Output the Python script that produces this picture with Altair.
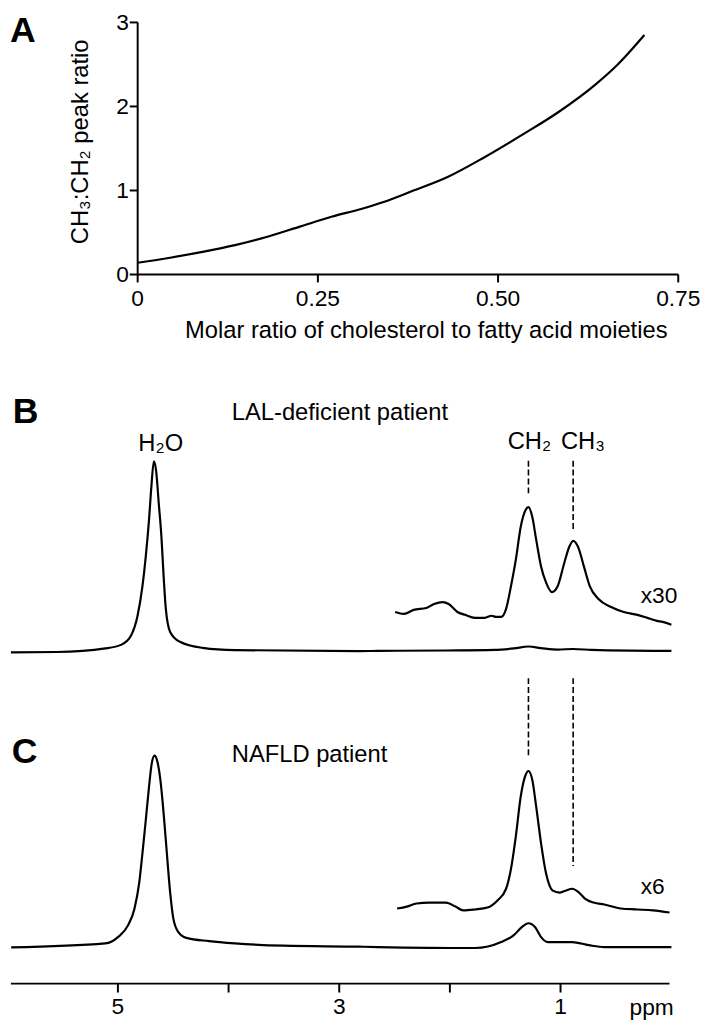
import altair as alt
import pandas as pd

FONT = "Liberation Sans"

# ---------------- Panel A : calibration curve ----------------
A_RATIO = [0, 0.045, 0.09, 0.135, 0.18, 0.225, 0.27, 0.31, 0.34, 0.38, 0.43,
           0.48, 0.535, 0.585, 0.635, 0.665, 0.703]
A_PEAK = [0.14, 0.20, 0.27, 0.35, 0.45, 0.57, 0.69, 0.78, 0.86, 0.99, 1.16,
          1.39, 1.67, 1.94, 2.26, 2.49, 2.85]
A_XTICKS = [0, 0.25, 0.5, 0.75]
A_XLABELS = ["0", "0.25", "0.50", "0.75"]
A_YTICKS = [0, 1, 2, 3]
A_YLABELS = ["0", "1", "2", "3"]
A_XTITLE = "Molar ratio of cholesterol to fatty acid moieties"
A_YTITLE = "CH\u2083:CH\u2082 peak ratio"

# ---------------- Panel B : LAL-deficient patient spectrum ----------------
B_MAIN_PPM = [5.967, 5.554, 5.114, 4.967, 4.880, 4.822, 4.778, 4.748, 4.719, 4.698,
              4.675, 4.655, 4.631, 4.607, 4.587, 4.567, 4.528, 4.440, 4.235, 3.942,
              2.829, 2.653, 2.037, 1.598, 1.422, 1.290, 1.158, 1.026, 0.885, 0.719,
              0.367, -0.002]
B_MAIN_I = [-0.5, -0.3, 1.6, 3.6, 8.5, 18.9, 34.5, 50.2, 69.3, 86.6,
            100.2, 95.3, 78.1, 60.6, 39.7, 22.4, 10.3, 5.1, 1.9, 0.7,
            0.2, 0.3, 0.5, 0.8, 1.6, 2.6, 1.6, 1.0, 1.3, 0.8,
            0.4, 0.3]
B_X30_PPM = [2.495, 2.415, 2.327, 2.213, 2.143, 2.064, 2.011, 1.932, 1.862, 1.774,
             1.686, 1.624, 1.580, 1.536, 1.492, 1.448, 1.404, 1.360, 1.316, 1.290,
             1.255, 1.220, 1.176, 1.132, 1.079, 1.026, 0.965, 0.921, 0.886, 0.842,
             0.789, 0.736, 0.657, 0.543, 0.429, 0.305, 0.191, 0.130, 0.077, -0.002]
B_X30_I = [20.8, 19.8, 21.9, 22.9, 25.0, 26.0, 25.0, 20.8, 19.3, 17.7,
           17.7, 18.8, 18.2, 18.2, 22.4, 34.4, 48.4, 65.6, 74.5, 76.0,
           70.8, 58.9, 44.8, 36.5, 31.3, 34.4, 46.9, 55.2, 58.3, 55.2,
           44.8, 34.4, 27.6, 23.4, 20.8, 19.3, 17.2, 16.1, 15.6, 14.1]
B_MARK_PPM = [1.290, 0.886]
B_MARK_TOP = [100.5, 100.5]
B_MARK_BOT = [82.3, 63.0]

# ---------------- Panel C : NAFLD patient spectrum ----------------
C_MAIN_PPM = [5.965, 5.114, 4.997, 4.909, 4.851, 4.807, 4.778, 4.748, 4.719, 4.695,
              4.669, 4.646, 4.616, 4.587, 4.558, 4.528, 4.499, 4.455, 4.382, 4.176,
              3.942, 3.503, 2.829, 2.653, 1.774, 1.536, 1.422, 1.352, 1.290, 1.229,
              1.176, 1.114, 1.009, 0.895, 0.745, 0.604, -0.002]
C_MAIN_I = [-0.2, 1.9, 5.3, 11.3, 19.9, 33.7, 49.1, 66.3, 83.5, 95.5,
            99.8, 97.3, 87.0, 69.7, 49.1, 28.5, 14.8, 7.9, 4.8, 3.1,
            1.9, 0.7, 0.2, 0.0, -0.5, 2.6, 6.2, 10.3, 12.4, 10.3,
            5.2, 2.6, 2.6, 2.6, 1.0, 0.0, 0.0]
C_X6_PPM = [2.477, 2.389, 2.301, 2.187, 2.037, 1.949, 1.879, 1.774, 1.660, 1.572,
            1.492, 1.448, 1.404, 1.360, 1.316, 1.290, 1.255, 1.220, 1.176, 1.132,
            1.070, 1.009, 0.956, 0.895, 0.833, 0.780, 0.701, 0.604, 0.455, 0.305,
            0.165, 0.015]
C_X6_I = [20.1, 21.1, 22.7, 23.2, 23.2, 21.1, 19.1, 19.6, 20.6, 24.2,
          30.4, 40.7, 57.7, 78.4, 89.7, 91.8, 87.1, 73.2, 54.1, 38.7,
          29.4, 28.4, 29.4, 30.4, 28.4, 25.3, 23.2, 22.2, 20.1, 19.6,
          19.1, 18.0]
C_MARK_PPM = [1.290, 0.886]
C_MARK_TOP = [140.2, 140.2]
C_MARK_BOT = [100.0, 42.3]
PPM_TICKS = [5, 4, 3, 2, 1]
PPM_LABELS = ["5", "", "3", "", "1"]
PPM_MIN, PPM_MAX = 0.0154, 5.967
PPM_AXIS_LEVEL = -19.07          # intensity level of the ppm axis line

# ---------------- Text annotations (data coordinates) ----------------
A_LETTER = {"x": [-0.1772], "y": [2.773], "t": ["A"]}
A_XTITLE_POS = {"x": [0.4004], "y": [-0.751], "t": [A_XTITLE]}
A_YTITLE_POS = {"x": [-0.0692], "y": [1.579], "t": [A_YTITLE]}
B_LETTER = {"x": [5.95], "y": [120.3], "t": ["B"]}
B_LEFT = {"x": [3.971], "y": [122.2], "t": ["LAL-deficient patient"]}
B_CENTER = {"x": [4.613, 1.281, 0.798], "y": [105.7, 106.8, 106.8],
            "t": ["H\u2082O", "CH\u2082", "CH\u2083"]}
B_RIGHT = {"x": [-0.055], "y": [25.5], "t": ["x30"]}
C_LETTER = {"x": [5.96], "y": [95.9], "t": ["C"]}
C_LEFT = {"x": [3.971], "y": [96.4], "t": ["NAFLD patient"]}
C_RIGHT = {"x": [0.059], "y": [27.8], "t": ["x6"]}
C_UNIT = {"x": [0.376], "y": [-35.57], "t": ["ppm"]}


def sc(domain, rng):
    return alt.Scale(domain=domain, range=rng, nice=False, zero=False)


# scales (pixel ranges place each panel on the page)
xA = sc([0, 0.75], [131.17, 677.98])
yA = sc([0, 3], [263.7, 8.7])
xB = sc([PPM_MIN, PPM_MAX], [669.12, 2.95])
yB = sc([0, 100], [645.0, 453.0])
xC = sc([PPM_MIN, PPM_MAX], [669.12, 2.95])
yC = sc([0, 100], [944.0, 750.0])


def XE(f, s):
    return alt.X(f"{f}:Q", scale=s, axis=None)


def YE(f, s):
    return alt.Y(f"{f}:Q", scale=s, axis=None)


def text_layer(d, xs, ys, **kw):
    return alt.Chart(pd.DataFrame(d)).mark_text(font=FONT, color="black", **kw).encode(
        x=XE("x", xs), y=YE("y", ys), text="t:N")


def line_layer(xv, yv, xs, ys):
    return alt.Chart(pd.DataFrame({"x": xv, "y": yv})).mark_line(
        color="black", strokeWidth=2.2, interpolate="monotone"
    ).encode(x=XE("x", xs), y=YE("y", ys))


def dashed_layer(xv, top, bot, xs, ys):
    return alt.Chart(pd.DataFrame({"x": xv, "y": top, "y2": bot})).mark_rule(
        color="black", strokeWidth=1.6, strokeDash=[6, 3]
    ).encode(x=XE("x", xs), y=YE("y", ys), y2="y2:Q")


# ---------- Panel A ----------
a_xdomain = alt.Chart(pd.DataFrame({"x": [A_XTICKS[0]], "x2": [A_XTICKS[-1]], "y": [A_YTICKS[0]]})).mark_rule(
    color="black", strokeWidth=2).encode(x=XE("x", xA), x2="x2:Q", y=YE("y", yA))
a_ydomain = alt.Chart(pd.DataFrame({"x": [A_XTICKS[0]], "y": [A_YTICKS[0]], "y2": [A_YTICKS[-1]]})).mark_rule(
    color="black", strokeWidth=2).encode(x=XE("x", xA), y=YE("y", yA), y2="y2:Q")
a_xticks = alt.Chart(pd.DataFrame({"x": A_XTICKS, "y": [A_YTICKS[0]] * len(A_XTICKS)})).mark_rule(
    color="black", strokeWidth=2, y2Offset=8).encode(x=XE("x", xA), y=YE("y", yA), y2="y:Q")
a_yticks = alt.Chart(pd.DataFrame({"x": [A_XTICKS[0]] * len(A_YTICKS), "y": A_YTICKS})).mark_rule(
    color="black", strokeWidth=2, x2Offset=-8).encode(x=XE("x", xA), x2="x:Q", y=YE("y", yA))
a_xlabels = text_layer({"x": A_XTICKS, "y": [A_YTICKS[0]] * len(A_XTICKS), "t": A_XLABELS}, xA, yA,
                       align="center", baseline="top", dy=14, fontSize=23)
a_ylabels = text_layer({"x": [A_XTICKS[0]] * len(A_YTICKS), "y": A_YTICKS, "t": A_YLABELS}, xA, yA,
                       align="right", baseline="alphabetic", dx=-9, dy=8, fontSize=23)

panelA = alt.layer(
    line_layer(A_RATIO, A_PEAK, xA, yA),
    a_xdomain, a_ydomain, a_xticks, a_yticks, a_xlabels, a_ylabels,
    text_layer(A_XTITLE_POS, xA, yA, align="center", baseline="alphabetic", fontSize=24),
    text_layer(A_YTITLE_POS, xA, yA, align="center", baseline="alphabetic", fontSize=24, angle=270),
    text_layer(A_LETTER, xA, yA, align="left", baseline="alphabetic", fontSize=36, fontWeight="bold"),
)

# ---------- Panel B ----------
panelB = alt.layer(
    line_layer(B_MAIN_PPM, B_MAIN_I, xB, yB),
    line_layer(B_X30_PPM, B_X30_I, xB, yB),
    dashed_layer(B_MARK_PPM, B_MARK_TOP, B_MARK_BOT, xB, yB),
    text_layer(B_LETTER, xB, yB, align="left", baseline="alphabetic", fontSize=36, fontWeight="bold"),
    text_layer(B_LEFT, xB, yB, align="left", baseline="alphabetic", fontSize=24),
    text_layer(B_CENTER, xB, yB, align="center", baseline="alphabetic", fontSize=24),
    text_layer(B_RIGHT, xB, yB, align="right", baseline="alphabetic", fontSize=23),
)

# ---------- Panel C ----------
c_domain = alt.Chart(pd.DataFrame({"x": [PPM_MIN], "x2": [PPM_MAX], "y": [PPM_AXIS_LEVEL]})).mark_rule(
    color="black", strokeWidth=2).encode(x=XE("x", xC), x2="x2:Q", y=YE("y", yC))
c_ticks = alt.Chart(pd.DataFrame({"x": PPM_TICKS, "y": [PPM_AXIS_LEVEL] * len(PPM_TICKS)})).mark_rule(
    color="black", strokeWidth=2, y2Offset=9).encode(x=XE("x", xC), y=YE("y", yC), y2="y:Q")
c_labels = text_layer({"x": PPM_TICKS, "y": [PPM_AXIS_LEVEL] * len(PPM_TICKS), "t": PPM_LABELS}, xC, yC,
                      align="center", baseline="top", dy=12.6, fontSize=23)

panelC = alt.layer(
    line_layer(C_MAIN_PPM, C_MAIN_I, xC, yC),
    line_layer(C_X6_PPM, C_X6_I, xC, yC),
    dashed_layer(C_MARK_PPM, C_MARK_TOP, C_MARK_BOT, xC, yC),
    c_domain, c_ticks, c_labels,
    text_layer(C_UNIT, xC, yC, align="left", baseline="alphabetic", fontSize=23),
    text_layer(C_LETTER, xC, yC, align="left", baseline="alphabetic", fontSize=36, fontWeight="bold"),
    text_layer(C_LEFT, xC, yC, align="left", baseline="alphabetic", fontSize=24),
    text_layer(C_RIGHT, xC, yC, align="right", baseline="alphabetic", fontSize=23),
)

chart = alt.layer(panelA, panelB, panelC).resolve_scale(
    x="independent", y="independent"
).properties(
    width=701, height=1021, padding=0,
    autosize=alt.AutoSizeParams(type="none"),
    background="white",
).configure_view(stroke="transparent")

chart.save("out.html", embed_options={"renderer": "svg", "actions": False})
